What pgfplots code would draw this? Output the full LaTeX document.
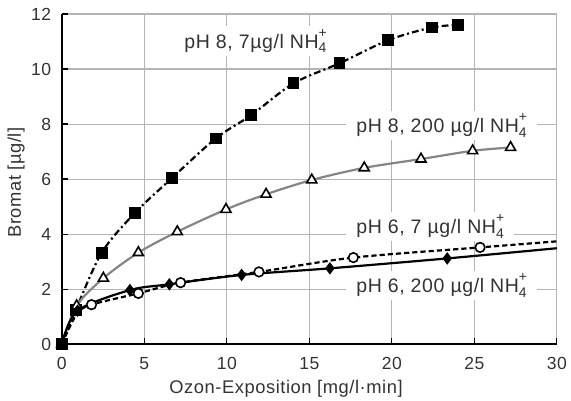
\documentclass[border=0pt]{standalone}
\usepackage{fontspec}
\setmainfont{Liberation Sans}[LetterSpace=3]
\usepackage{pgfplots}
\pgfplotsset{compat=1.18}
\definecolor{txt}{HTML}{333333}
\definecolor{gridc}{HTML}{B4B4B4}
\definecolor{curvegray}{HTML}{858585}
\newcommand{\nh}{NH\raisebox{-0.45ex}{\fontsize{7}{5.6}\selectfont\shortstack[l]{+\\4}}}
\begin{document}
\begin{tikzpicture}
\path[use as bounding box] (-30.9bp,-28.35bp) rectangle (254.6bp,172.15bp);
\begin{axis}[
  at={(0,0)}, anchor=south west,
  scale only axis, width=247.5bp, height=165.15bp,
  xmin=0, xmax=30, ymin=0, ymax=12,
  xtick={0,5,...,30}, ytick={0,2,...,12},
  grid=major, major grid style={gridc, line width=0.55bp},
  axis x line*=bottom, axis y line*=left,
  axis line style={black, line width=1.1bp, -},
  tick align=inside, major tick length=3bp,
  tick style={black, line width=0.7bp},
  /pgf/number format/assume math mode=true,
  tick label style={font=\fontsize{8.8}{10}\selectfont, text=txt},
  xticklabel style={anchor=center, yshift=-9.5bp},
  yticklabel style={xshift=-1.8bp},
  label style={font=\fontsize{9.2}{11}\selectfont, text=txt},
  xlabel={Ozon-Exposition [mg/l·min]},
  ylabel={Bromat [µg/l]},
  xlabel style={at={(axis description cs:0.453,0)}, yshift=-22bp, anchor=center},
  ylabel style={at={(axis description cs:-0.0925,0.49)}, anchor=center},
  clip=false,
]
% pH 8, 7 ug/l
\addplot[black, line width=1.1bp, dash pattern=on 3.4bp off 1.6bp on 1bp off 1.6bp, smooth, tension=0.5,
  mark=square*, mark size=2.4bp, mark options={solid, fill=black}]
  coordinates {(0,0) (0.85,1.25) (2.42,3.33) (4.44,4.78) (6.66,6.03) (9.33,7.48) (11.49,8.33) (14.04,9.48) (16.83,10.21) (19.79,11.05) (22.42,11.51) (24.03,11.6)};
% pH 8, 200 ug/l
\addplot[curvegray, line width=1.1bp, smooth, tension=0.5, mark=triangle*, mark size=2.9bp,
  mark options={solid, fill=white, draw=black, line width=0.8bp}]
  coordinates {(0,0) (0.9,1.4) (2.52,2.40) (4.64,3.33) (7.0,4.09) (9.95,4.90) (12.38,5.45) (15.15,5.97) (18.33,6.41) (21.77,6.73) (24.9,7.03) (27.2,7.15)};
% pH 6, 7 ug/l (line)
\addplot[black, line width=1.1bp, dash pattern=on 2.6bp off 1.5bp, smooth, tension=0.5, mark=none]
  coordinates {(0,0) (0.9,1.1) (1.8,1.44) (4.64,1.85) (7.2,2.24) (11.95,2.63) (17.67,3.15) (25.35,3.52) (30,3.74)};
% pH 6, 200 ug/l (line)
\addplot[black, line width=1.1bp, smooth, tension=0.5, mark=none]
  coordinates {(0,0) (0.95,1.22) (4.13,1.97) (6.52,2.18) (10.9,2.52) (16.25,2.76) (23.36,3.12) (30,3.49)};
% markers
\addplot[only marks, mark=diamond*, mark size=2.8bp, mark options={fill=black, draw=black}]
  coordinates {(0.95,1.22) (4.13,1.97) (6.52,2.18) (10.9,2.52) (16.25,2.76) (23.36,3.12)};
\addplot[only marks, mark=*, mark size=2.4bp, mark options={fill=white, draw=black, line width=0.8bp}]
  coordinates {(1.8,1.44) (4.64,1.85) (7.2,2.24) (11.95,2.63) (17.67,3.15) (25.35,3.52)};
\addplot[only marks, mark=square*, mark size=2.4bp, mark options={fill=black}]
  coordinates {(0,0)};
% labels
\begin{scope}[every node/.style={fill=white, inner xsep=5bp, inner ysep=1.5bp, anchor=base west, text=txt, font=\fontsize{9.8}{11}\selectfont}]
\node at (axis cs:6.80,10.76) {pH 8, 7µg/l \nh};
\node at (axis cs:17.22,7.69) {pH 8, 200 µg/l \nh};
\node at (axis cs:17.22,4.02) {pH 6, 7 µg/l \nh};
\node at (axis cs:17.22,1.87) {pH 6, 200 µg/l \nh};
\end{scope}
\end{axis}
\end{tikzpicture}
\end{document}
